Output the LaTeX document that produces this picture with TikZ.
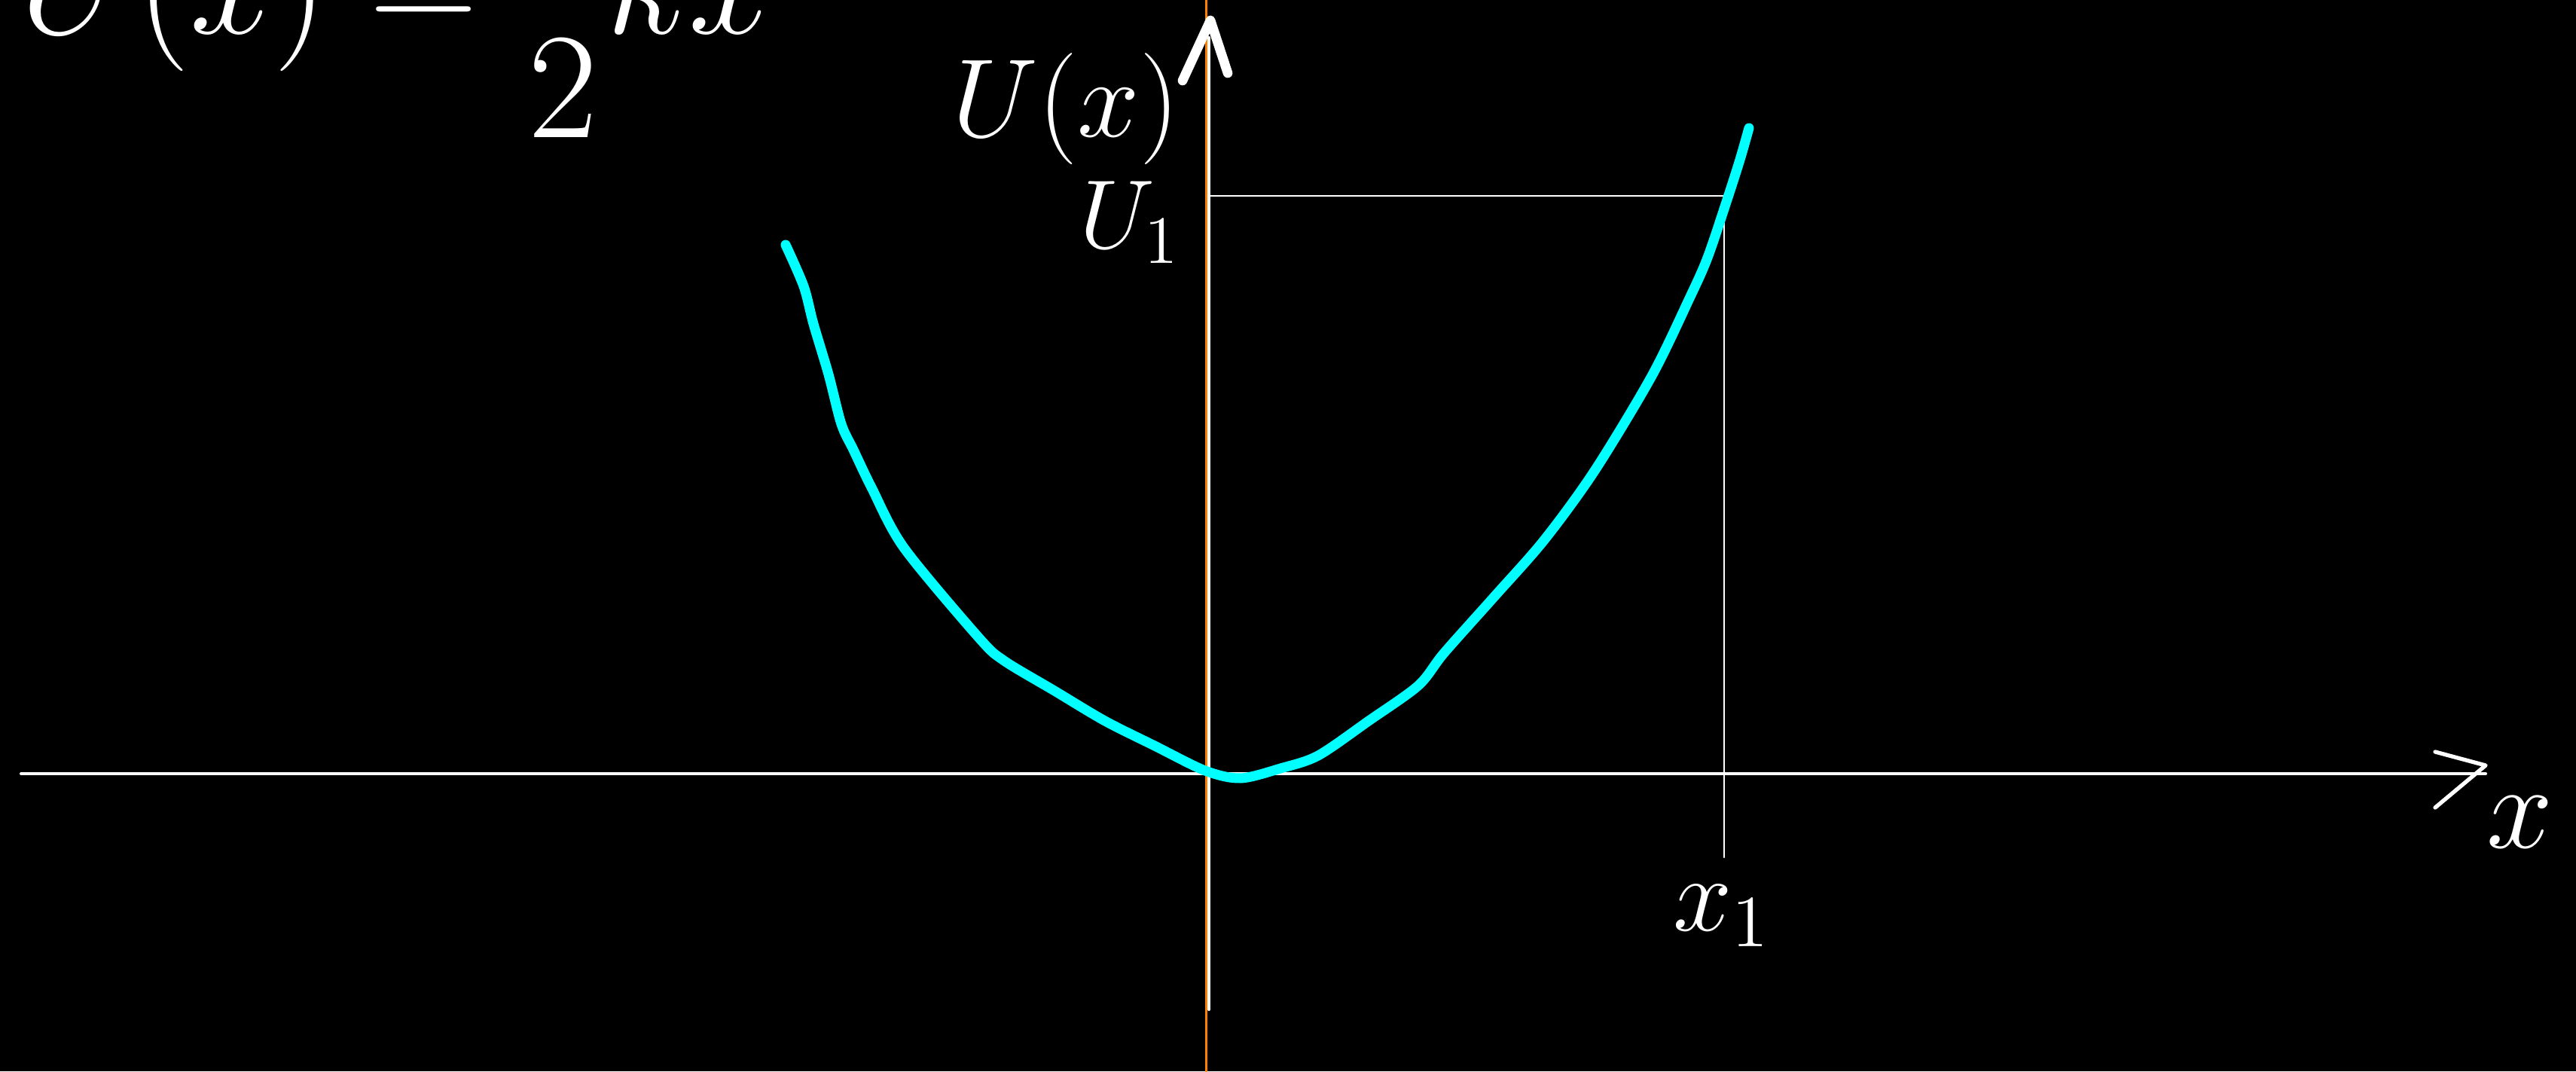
\documentclass[tikz,border=0pt]{standalone}
\usepackage{amsmath}
\usetikzlibrary{calc}
\definecolor{curvecyan}{RGB}{0,255,255}
\definecolor{guideorange}{RGB}{255,128,0}

\begin{document}
\begin{tikzpicture}[line cap=round,line join=round,
  chalk/.style={white,line width=1.15pt},
  thinchalk/.style={white,line width=0.65pt},
  chalktext/.style={white,inner sep=0pt,transform shape,font=\fontsize{20.74}{25}\selectfont}]
  \fill[black] (0,0) rectangle (34.2,14.22);
  \useasboundingbox (0,0) rectangle (34.2,14.22);
  % formula, cut off at the top edge
  \begin{scope}
    \clip (0,0) rectangle (34.2,14.22);
    \node[chalktext,anchor=base west,scale=2.75] (formula) at (0.25,13.77) {$U(x)=\dfrac{1}{2}kx^2$};
  \end{scope}
  % axes
  \coordinate (xstart) at (0.28,3.95);
  \coordinate (xend) at (33.0,3.95);
  \coordinate (ybot) at (16.05,0.82);
  \coordinate (ytop) at (16.05,13.72);
  \draw[guideorange,line width=0.85pt] (16.015,0) -- (16.015,14.22);
  \draw[chalk] (xstart) -- (xend);
  \draw[chalk] (ybot) -- (ytop);
  \draw[chalk,line width=1.5pt] (32.33,4.24) -- (33.0,4.06) -- (32.33,3.50);
  \draw[white,line width=3.6pt] (15.70,13.15) -- (16.07,13.95) -- (16.30,13.25);
  % U_1 and x_1 guides
  \coordinate (P) at (22.89,11.62);
  \draw[thinchalk] (16.05,11.62) -- (P) -- (22.89,2.84);
  % labels
  \node[chalktext,anchor=base,scale=2.03] (Ulabel) at (14.15,12.4) {$U(x)$};
  \node[chalktext,anchor=base east,scale=1.78] (Uone) at (15.68,10.92) {$U_1$};
  \node[chalktext,anchor=base west,scale=1.93] (xone) at (22.2,1.87) {$x_1$};
  \node[chalktext,anchor=base west,scale=2.17] (xlabel) at (33.0,2.97) {$x$};
  % potential curve
  \draw[curvecyan,line width=3.7pt] plot[smooth,tension=0.5] coordinates {
    (10.43,10.97) (10.67,10.42) (10.80,9.92) (11.00,9.25) (11.17,8.59)
    (11.33,8.25) (11.57,7.75) (12.00,6.95) (13.00,5.75) (13.33,5.45)
    (14.00,5.05) (14.67,4.65) (15.33,4.32) (16.00,3.99) (16.47,3.89)
    (17.00,4.02) (17.50,4.19) (18.17,4.65) (18.83,5.12) (19.17,5.55)
    (19.83,6.29) (20.50,7.05) (21.17,7.97) (21.93,9.23) (22.43,10.26)
    (22.67,10.80) (22.93,11.57) (23.10,12.10) (23.22,12.52)};
\end{tikzpicture}
\end{document}
